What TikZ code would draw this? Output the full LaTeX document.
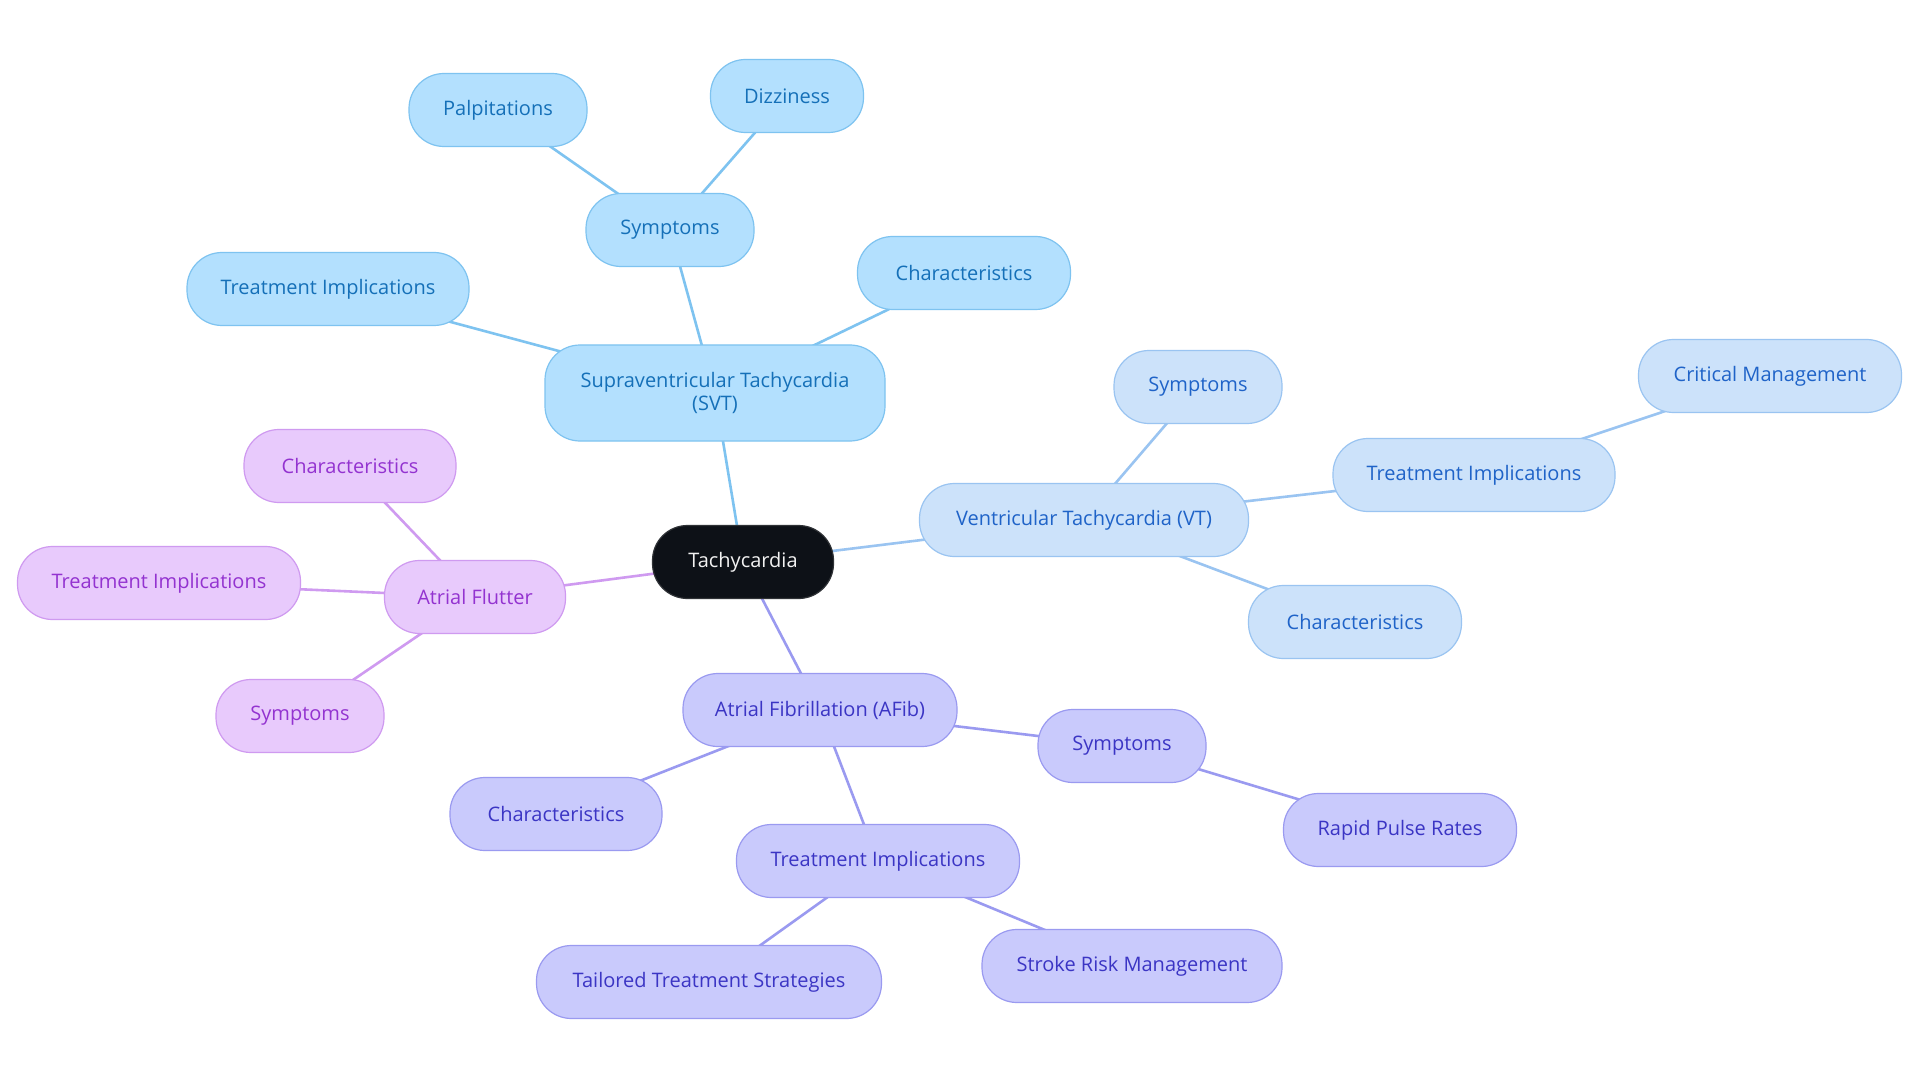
\documentclass[tikz,border=0pt]{standalone}
\usepackage{fontspec}
\setmainfont{Open Sans}
\usetikzlibrary{backgrounds}
\definecolor{svtF}{HTML}{B3E0FE}
\definecolor{svtD}{HTML}{7EC3F0}
\definecolor{svtT}{HTML}{1570B8}
\definecolor{vtF}{HTML}{CCE2FA}
\definecolor{vtD}{HTML}{9AC4F1}
\definecolor{vtT}{HTML}{1F63C8}
\definecolor{afF}{HTML}{C9CAFC}
\definecolor{afD}{HTML}{9A9AF0}
\definecolor{afT}{HTML}{3B35C4}
\definecolor{flF}{HTML}{E8CAFC}
\definecolor{flD}{HTML}{CF9AF0}
\definecolor{flT}{HTML}{9333D0}
\definecolor{rootF}{HTML}{0D1117}
\begin{document}
\begin{tikzpicture}[x=1pt,y=-1pt,
  box/.style={rounded corners=35pt,minimum height=73pt,inner xsep=30pt,font=\fontsize{20}{23.5}\selectfont,line width=1.2pt,align=center},
  svt/.style={box,fill=svtF,draw=svtD,text=svtT},
  vt/.style={box,fill=vtF,draw=vtD,text=vtT},
  af/.style={box,fill=afF,draw=afD,text=afT},
  fl/.style={box,fill=flF,draw=flD,text=flT},
  root/.style={box,fill=rootF,draw=rootF!70!gray,text=white!90!gray},
  lsvt/.style={draw=svtD,line width=2.6pt},
  lvt/.style={draw=vtD,line width=2.6pt},
  laf/.style={draw=afD,line width=2.6pt},
  lfl/.style={draw=flD,line width=2.6pt}]
\useasboundingbox (0,0) rectangle (1920,1083);
% nodes
\node[root,minimum width=181pt] (root) at (743,562) {Tachycardia};
\node[svt,minimum width=340pt,minimum height=96pt] (svt) at (715,393) {Supraventricular Tachycardia\\(SVT)};
\node[svt,minimum width=168pt] (svtS) at (670,230) {Symptoms};
\node[svt,minimum width=178pt] (palp) at (498,110) {Palpitations};
\node[svt,minimum width=153pt] (dizz) at (787,96) {Dizziness};
\node[svt,minimum width=213pt] (svtC) at (964,273) {Characteristics};
\node[svt,minimum width=282pt] (svtT) at (328,289) {Treatment Implications};
\node[vt,minimum width=329pt] (vt) at (1084,520) {Ventricular Tachycardia (VT)};
\node[vt,minimum width=168pt] (vtS) at (1198,387) {Symptoms};
\node[vt,minimum width=282pt] (vtT) at (1474,475) {Treatment Implications};
\node[vt,minimum width=263pt] (crit) at (1770,376) {Critical Management};
\node[vt,minimum width=213pt] (vtC) at (1355,622) {Characteristics};
\node[fl,minimum width=181pt] (fl) at (475,597) {Atrial Flutter};
\node[fl,minimum width=212pt] (flC) at (350,466) {Characteristics};
\node[fl,minimum width=283pt] (flT) at (159,583) {Treatment Implications};
\node[fl,minimum width=168pt] (flS) at (300,716) {Symptoms};
\node[af,minimum width=274pt] (afib) at (820,710) {Atrial Fibrillation (AFib)};
\node[af,minimum width=168pt] (afS) at (1122,746) {Symptoms};
\node[af,minimum width=233pt] (rapid) at (1400,830) {Rapid Pulse Rates};
\node[af,minimum width=212pt] (afC) at (556,814) {Characteristics};
\node[af,minimum width=283pt] (afT) at (878,861) {Treatment Implications};
\node[af,minimum width=345pt] (tail) at (709,982) {Tailored Treatment Strategies};
\node[af,minimum width=300pt] (stroke) at (1132,966) {Stroke Risk Management};
% edges
\begin{scope}[on background layer]
\fill[white] (0,0) rectangle (1920,1083);
\draw[lsvt] (root.center) -- (svt.center);
\draw[lsvt] (svt.center) -- (svtS.center);
\draw[lsvt] (svtS.center) -- (palp.center);
\draw[lsvt] (svtS.center) -- (dizz.center);
\draw[lsvt] (svt.center) -- (svtC.center);
\draw[lsvt] (svt.center) -- (svtT.center);
\draw[lvt] (root.center) -- (vt.center);
\draw[lvt] (vt.center) -- (vtS.center);
\draw[lvt] (vt.center) -- (vtT.center);
\draw[lvt] (vtT.center) -- (crit.center);
\draw[lvt] (vt.center) -- (vtC.center);
\draw[lfl] (root.center) -- (fl.center);
\draw[lfl] (fl.center) -- (flC.center);
\draw[lfl] (fl.center) -- (flT.center);
\draw[lfl] (fl.center) -- (flS.center);
\draw[laf] (root.center) -- (afib.center);
\draw[laf] (afib.center) -- (afS.center);
\draw[laf] (afS.center) -- (rapid.center);
\draw[laf] (afib.center) -- (afC.center);
\draw[laf] (afib.center) -- (afT.center);
\draw[laf] (afT.center) -- (tail.center);
\draw[laf] (afT.center) -- (stroke.center);
\end{scope}
\end{tikzpicture}
\end{document}
